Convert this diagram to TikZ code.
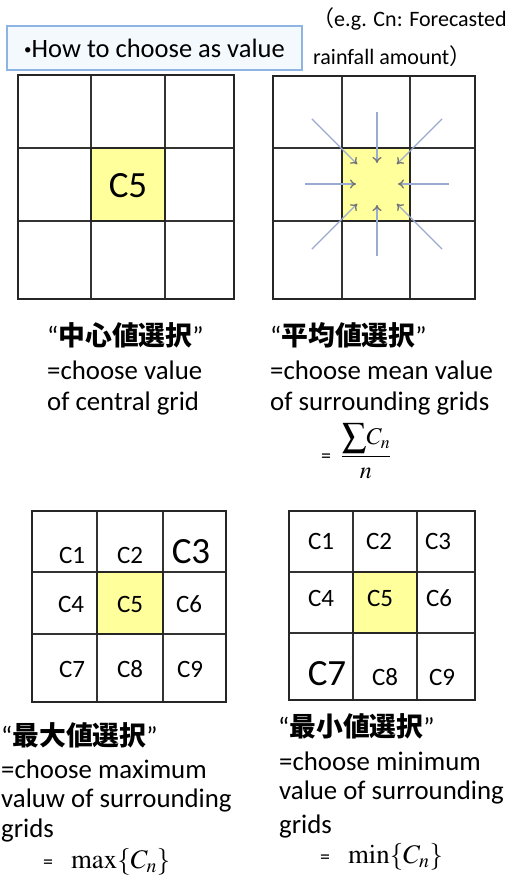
\documentclass[tikz,border=0pt]{standalone}
\usepackage{mathptmx}
\usepackage[no-math]{fontspec}
\setmainfont{Carlito}
\newfontfamily\jpfont{Noto Sans CJK JP}
\usetikzlibrary{arrows.meta,calc}

\definecolor{cellyellow}{HTML}{FFFF9C}
\definecolor{boxblue}{HTML}{8EB4E3}
\definecolor{boxfill}{HTML}{F4F9FE}
\definecolor{arrowblue}{HTML}{9AAAD0}

% quoted Japanese heading
\newcommand\jq[1]{“{\jpfont\bfseries #1}”}

\tikzset{
  txt/.style={inner sep=0pt, anchor=base west, font=\fontsize{26.8}{31}\selectfont},
  smalltxt/.style={txt, font=\fontsize{22}{26}\selectfont},
  lbl/.style={inner sep=0pt, anchor=base, font=\fontsize{25}{28}\selectfont},
  biglbl/.style={lbl, font=\fontsize{37}{40}\selectfont},
  gridline/.style={line width=1.2pt, draw=black!80},
  gridframe/.style={line width=2.4pt, draw=black!85},
  inarrow/.style={-{To[length=6pt,width=9pt,color=black!55]}, draw=arrowblue, line width=1.3pt},
}

\begin{document}
\begin{tikzpicture}[x=1pt,y=-1pt]
\useasboundingbox (0,0) rectangle (511,877);

% title box and note
\node[draw=boxblue,fill=boxfill,line width=1.3pt,minimum width=295pt,minimum height=44pt,
  inner sep=0pt,font=\fontsize{26.5}{30}\selectfont] (title) at (154.5,48)
  {{\fontsize{15}{15}\selectfont\raisebox{3pt}{•}}How to choose as value};
\node[smalltxt] (note1) at (312,27) {{\jpfont （}e.g. Cn: Forecasted};
\node[smalltxt] (note2) at (313,65) {rainfall amount{\jpfont ）}};

% the four 3x3 grids: left, top, right, bottom, two inner x, two inner y
\foreach \xl/\yt/\xr/\yb/\xa/\xb/\ya/\yc in {
    18/75/234/299/91/165/148/221,
    273/76/475/299/342/410/148/221,
    32/511/226/702/97/163/572/634,
    289/511/475/700/353/417/572/633} {
  \fill[cellyellow] (\xa,\ya) rectangle (\xb,\yc);
  \draw[gridline] (\xa,\yt) -- (\xa,\yb) (\xb,\yt) -- (\xb,\yb)
                  (\xl,\ya) -- (\xr,\ya) (\xl,\yc) -- (\xr,\yc);
  \draw[gridframe] (\xa,\ya) rectangle (\xb,\yc);
  \draw[gridframe] (\xl,\yt) rectangle (\xr,\yb);
}

% central value
\node[biglbl] (cfive) at (128,198) {C5};

% mean value arrows
\coordinate (mid) at (377,184);
\foreach \a in {0,90,180,270}
  \draw[inarrow] ($(mid)+(\a:72)$) -- ($(mid)+(\a:21)$);
\foreach \a in {45,135,225,315}
  \draw[inarrow] ($(mid)+(\a:92)$) -- ($(mid)+(\a:28)$);

% maximum grid
\node[lbl] (maxc1) at (72,563) {C1};
\node[lbl] (maxc2) at (130,563) {C2};
\node[biglbl] (maxc3) at (191,563) {C3};
\node[lbl] (maxc4) at (71,612) {C4};
\node[lbl] (maxc5) at (130,612) {C5};
\node[lbl] (maxc6) at (189,612) {C6};
\node[lbl] (maxc7) at (72,677) {C7};
\node[lbl] (maxc8) at (130,677) {C8};
\node[lbl] (maxc9) at (190,677) {C9};

% minimum grid
\node[lbl] (minc1) at (321,549) {C1};
\node[lbl] (minc2) at (379,549) {C2};
\node[lbl] (minc3) at (438,549) {C3};
\node[lbl] (minc4) at (321,606) {C4};
\node[lbl] (minc5) at (380,606) {C5};
\node[lbl] (minc6) at (439,606) {C6};
\node[biglbl] (minc7) at (327,685) {C7};
\node[lbl] (minc8) at (385,685) {C8};
\node[lbl] (minc9) at (442,685) {C9};

% captions
\node[txt] (centerhd) at (47,345) {\jq{中心値選択}};
\node[txt] (centerl1) at (47,379) {=choose value};
\node[txt] (centerl2) at (47,410) {of central grid};

\node[txt] (meanhd) at (270,345) {\jq{平均値選択}};
\node[txt] (meanl1) at (270,379) {=choose mean value};
\node[txt] (meanl2) at (270,410) {of surrounding grids};
\node[txt,font=\fontsize{24}{28}\selectfont] (meaneq) at (321,462)
  {{\fontsize{20}{20}\selectfont=}\, $\displaystyle\frac{\raisebox{-2pt}{\scalebox{1.45}{$\sum$}}C_n}{n}$};

\node[txt] (maxhd) at (1,745) {\jq{最大値選択}};
\node[txt] (maxl1) at (1,778) {=choose maximum};
\node[txt] (maxl2) at (1,807) {valuw of surrounding};
\node[txt] (maxl3) at (1,837) {grids};
\node[txt] (maxeq) at (43,868) {{\fontsize{20}{20}\selectfont=}\;\, $\max\{C_n\}$};

\node[txt] (minhd) at (278,736) {\jq{最小値選択}};
\node[txt] (minl1) at (279,770) {=choose minimum};
\node[txt] (minl2) at (279,799) {value of surrounding};
\node[txt] (minl3) at (279,833) {grids};
\node[txt] (mineq) at (320,863) {{\fontsize{20}{20}\selectfont=}\;\, $\min\{C_n\}$};
\end{tikzpicture}
\end{document}
